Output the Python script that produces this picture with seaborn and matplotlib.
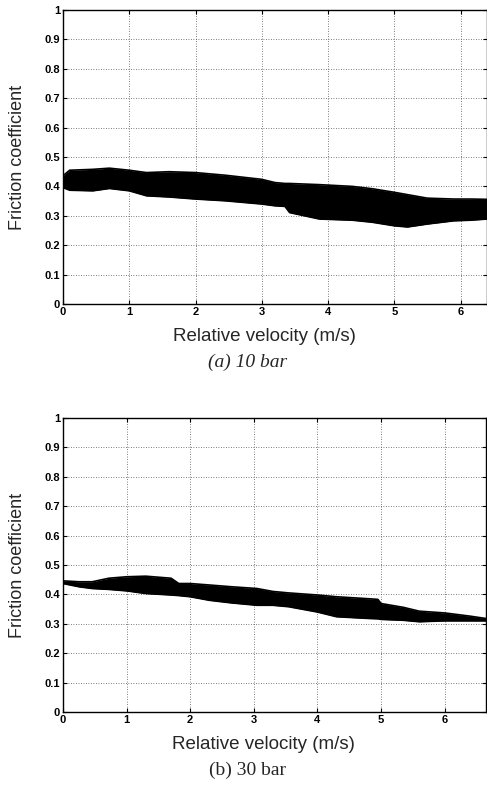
import matplotlib
matplotlib.use("Agg")
import matplotlib.pyplot as plt
import seaborn as sns
import pandas as pd

# ---- data ----
vel_a = [0.0, 0.1, 0.45, 0.7, 1.0, 1.26, 1.6, 2.0, 2.45, 3.0, 3.2, 3.35, 3.42, 3.87, 4.37, 4.67, 5.0, 5.2, 5.5, 5.9, 6.15, 6.4]
upper_a = [0.436, 0.455, 0.458, 0.462, 0.455, 0.447, 0.45, 0.447, 0.438, 0.424, 0.413, 0.41, 0.41, 0.406, 0.40, 0.392, 0.38, 0.372, 0.36, 0.357, 0.357, 0.356]
lower_a = [0.396, 0.387, 0.385, 0.393, 0.385, 0.368, 0.364, 0.357, 0.351, 0.34, 0.334, 0.332, 0.311, 0.289, 0.285, 0.278, 0.266, 0.262, 0.272, 0.283, 0.285, 0.289]

vel_b = [0.0, 0.25, 0.46, 0.72, 1.0, 1.3, 1.7, 1.82, 2.0, 2.3, 2.65, 3.05, 3.3, 3.55, 4.0, 4.3, 4.82, 4.95, 5.0, 5.35, 5.6, 6.0, 6.4, 6.65]
upper_b = [0.446, 0.443, 0.443, 0.455, 0.46, 0.462, 0.455, 0.437, 0.437, 0.432, 0.426, 0.42, 0.41, 0.405, 0.398, 0.392, 0.385, 0.383, 0.369, 0.356, 0.343, 0.337, 0.326, 0.318]
lower_b = [0.437, 0.426, 0.42, 0.417, 0.412, 0.403, 0.398, 0.396, 0.392, 0.38, 0.371, 0.363, 0.363, 0.358, 0.34, 0.324, 0.318, 0.317, 0.315, 0.312, 0.307, 0.31, 0.31, 0.31]

x_ticks = [0, 1, 2, 3, 4, 5, 6]
y_ticks = [0, 0.1, 0.2, 0.3, 0.4, 0.5, 0.6, 0.7, 0.8, 0.9, 1.0]
y_ticklabels = ["0", "0.1", "0.2", "0.3", "0.4", "0.5", "0.6", "0.7", "0.8", "0.9", "1"]
captions = ["(a) 10 bar", "(b) 30 bar"]
x_label = "Relative velocity (m/s)"
y_label = "Friction coefficient"

sns.set_style("white")
plt.rcParams["font.family"] = ["Liberation Sans", "DejaVu Sans"]

fig = plt.figure(figsize=(4.87, 7.87), dpi=100)
ax_a = fig.add_axes([63 / 487, 1 - 304 / 787, 424 / 487, 294 / 787])
ax_b = fig.add_axes([63 / 487, 1 - 712 / 787, 423 / 487, 294 / 787])

panels = [
    (ax_a, vel_a, upper_a, lower_a, 6.4, captions[0], "italic"),
    (ax_b, vel_b, upper_b, lower_b, 6.65, captions[1], "normal"),
]

for ax, vel, up, lo, xmax, cap, style in panels:
    df = pd.DataFrame({"vel": vel + vel,
                       "mu": up + lo,
                       "edge": ["upper"] * len(vel) + ["lower"] * len(vel)})
    sns.lineplot(data=df, x="vel", y="mu", units="edge", estimator=None,
                 color="black", lw=1.2, ax=ax, legend=False)
    ax.fill_between(vel, lo, up, color="black", lw=0)
    ax.set_xlim(0, xmax)
    ax.set_ylim(0, 1)
    ax.set_xticks(x_ticks)
    ax.set_xticklabels([str(t) for t in x_ticks], fontsize=8, fontweight="bold")
    ax.set_yticks(y_ticks)
    ax.set_yticklabels(y_ticklabels, fontsize=8, fontweight="bold")
    ax.grid(True, color="#555555", linestyle=(0, (1, 2)), lw=0.6)
    ax.tick_params(direction="in", length=3, width=0.8, top=True, right=True,
                   bottom=True, left=True, pad=2, colors="black")
    for s in ax.spines.values():
        s.set_color("black")
        s.set_linewidth(1.0)
    ax.set_xlabel(x_label, fontsize=13.5)
    ax.xaxis.set_label_coords(0.475, -0.082)
    ax.set_ylabel(y_label, fontsize=13)
    ax.yaxis.set_label_coords(-0.088, 0.5)
    ax.text(0.435, -0.168, cap, transform=ax.transAxes, ha="center", va="top",
            fontsize=14, family=["Liberation Serif", "DejaVu Serif"], style=style)

fig.savefig("out.png", dpi=100)
